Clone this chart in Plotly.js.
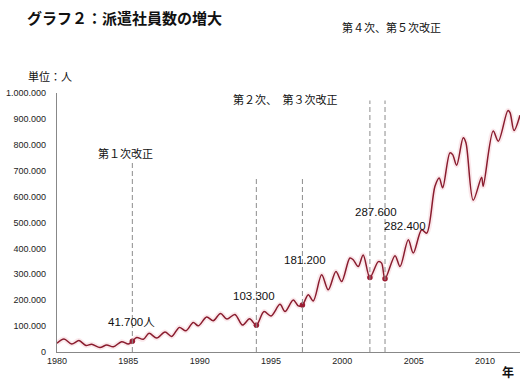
<!DOCTYPE html>
<html>
<head>
<meta charset="utf-8">
<script src="https://cdn.plot.ly/plotly-3.0.1.min.js"></script>
<style>html,body{margin:0;padding:0;background:#fff;}#chart{width:529px;height:381px;}</style>
</head>
<body>
<div id="chart"></div>
<script>
// Series: number of dispatched workers (persons), fractional years
const years = [1980.0,1980.49,1981.03,1981.54,1982.03,1982.43,1983.01,1983.48,1983.95,1984.53,1985.0,1985.28,1985.59,1986.05,1986.45,1986.99,1987.57,1988.04,1988.57,1989.04,1989.55,1989.9,1990.49,1990.95,1991.46,1991.91,1992.47,1993.0,1993.5,1993.97,1994.51,1995.0,1995.63,1995.98,1996.56,1996.91,1997.2,1997.61,1997.96,1998.55,1999.01,1999.55,1999.95,2000.53,2000.76,2001.11,2001.46,2001.93,2002.52,2002.75,2002.99,2003.69,2004.04,2004.62,2004.97,2005.56,2005.91,2006.49,2006.79,2007.03,2007.54,2007.73,2008.01,2008.47,2008.66,2009.17,2009.76,2009.87,2010.57,2010.93,2011.6,2011.75,2012.03,2012.45];
const workers = [34000,50000,31000,44000,25000,30000,17000,27000,20000,40000,31000,41700,56000,49000,72000,54000,77000,60000,95000,82000,114000,101000,135000,121000,149000,127000,145000,104000,128000,103300,156000,139000,184000,156000,201000,178000,181200,221000,197000,298000,240000,311000,272000,363000,356000,330000,375000,287600,349000,343000,282400,372000,330000,433000,382000,472000,459000,640000,672000,634000,769000,762000,721000,827000,808000,586000,675000,640000,853000,814000,932000,924000,855000,914000];

// Law revisions (highlighted points)
const revYears = [1985.28,1993.97,1997.2,2001.93,2002.99];
const revValues = [41700,103300,181200,287600,282400];
const revLabels = ['41.700人','103.300','181.200','287.600','282.400'];
const revLineTops = [731000,670000,670000,971000,971000];

const yTicks = [0,100000,200000,300000,400000,500000,600000,700000,800000,900000,1000000];
const xTicks = [1980,1985,1990,1995,2000,2005,2010];

// layout geometry
const L = 57, R = 520, T = 93.3, B = 352, W = 529, H = 381;
const px = x => (x - L) / (R - L);
const py = y => (B - y) / (B - T);

const jp = '"Noto Sans CJK JP", sans-serif';
const num = '"Liberation Sans", Arial, "Noto Sans CJK JP", sans-serif';

const traces = [
  {x: years, y: workers, type: 'scatter', mode: 'lines', line: {color: 'rgba(230,150,165,0.22)', width: 5, shape: 'spline', smoothing: 0.9}, hoverinfo: 'skip', showlegend: false},
  {x: years, y: workers, type: 'scatter', mode: 'lines', line: {color: '#8a1c2e', width: 1.5, shape: 'spline', smoothing: 0.9}, showlegend: false},
  {x: revYears, y: revValues, type: 'scatter', mode: 'markers', marker: {color: '#9b1d33', size: 5.5}, showlegend: false}
];

const shapes = revYears.map((yr, i) => ({
  type: 'line', xref: 'x', yref: 'y', x0: yr, x1: yr, y0: 0, y1: revLineTops[i],
  line: {color: '#8c8c8c', width: 1, dash: '5px,3px'}
}));

const ann = (text, x, y, size, family, extra) => Object.assign({
  text: text, xref: 'paper', yref: 'paper', x: px(x), y: py(y),
  xanchor: 'left', yanchor: 'middle', showarrow: false,
  font: {family: family, size: size, color: '#111'}
}, extra || {});

const revLabelPos = [[106, 322], [231, 296], [282, 260], [353, 212], [382, 226.5]];

const annotations = [
  ann('グラフ２：派遣社員数の増大', 25, 18, 15, jp, {font: {family: jp, size: 15, color: '#111', weight: 'bold'}}),
  ann('第４次、第５次改正', 340, 27, 11, jp),
  ann('単位：人', 26, 76, 11, jp),
  ann('第１次改正', 96, 153, 11, jp),
  ann('第２次、　第３次改正', 231, 99.5, 11, jp),
  ann('年', 500, 371, 12, jp, {font: {family: jp, size: 12, color: '#111', weight: 'bold'}})
].concat(revLabels.map((t, i) => ann(t, revLabelPos[i][0], revLabelPos[i][1], 11.5, num)));

const layout = {
  width: W, height: H,
  margin: {l: L, r: W - R, t: T, b: H - B, pad: 0},
  paper_bgcolor: '#fff', plot_bgcolor: '#fff',
  separators: ',.',
  xaxis: {
    range: [1980, 2012.45], tickvals: xTicks, tickformat: 'd',
    showline: true, linecolor: '#888', linewidth: 1.2, showgrid: false, zeroline: false,
    ticks: '', ticklen: 0,
    tickfont: {family: num, size: 9, color: '#222'}
  },
  yaxis: {
    range: [0, 1000000], tickvals: yTicks, tickformat: ',d',
    showline: true, linecolor: '#888', linewidth: 1.2, showgrid: false, zeroline: false,
    ticks: 'outside', ticklen: 8, tickcolor: 'rgba(0,0,0,0)',
    tickfont: {family: num, size: 9, color: '#222'}
  },
  shapes: shapes,
  annotations: annotations
};

Plotly.newPlot('chart', traces, layout, {staticPlot: true, displayModeBar: false});
</script>
</body>
</html>
